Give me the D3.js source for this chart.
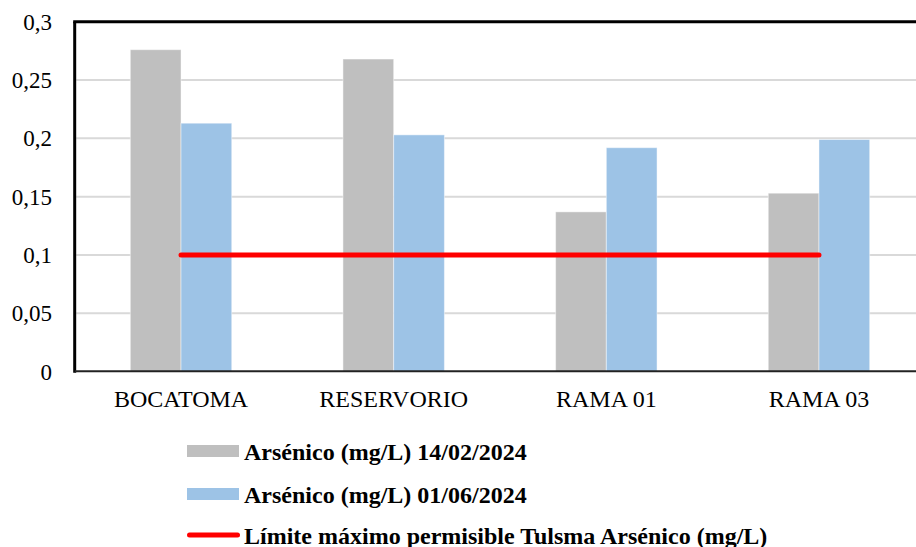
<!DOCTYPE html>
<html>
<head>
<meta charset="utf-8">
<script src="https://cdn.jsdelivr.net/npm/d3@7"></script>
<style>
  html, body { margin: 0; padding: 0; background: #fff; overflow: hidden; }
  svg { display: block; }
  svg text { font-family: "Times New Roman", "Liberation Serif", "DejaVu Serif", serif; fill: #000; }
</style>
</head>
<body>
<svg id="chart" width="916" height="547"></svg>
<script>
// Arsenic concentrations per sampling point
const categories = ["BOCATOMA", "RESERVORIO", "RAMA 01", "RAMA 03"];
const seriesNames = ["Arsénico (mg/L) 14/02/2024", "Arsénico (mg/L) 01/06/2024"];
const arsenicFeb = [0.276, 0.268, 0.137, 0.153];
const arsenicJun = [0.213, 0.203, 0.192, 0.199];
const limitName = "Límite máximo permisible Tulsma Arsénico (mg/L)";
const limitValues = [0.1, 0.1, 0.1, 0.1];
const yTicks = [0, 0.05, 0.1, 0.15, 0.2, 0.25, 0.3];
const yTickLabels = ["0", "0,05", "0,1", "0,15", "0,2", "0,25", "0,3"];

const colors = ["#bfbfbf", "#9dc3e6"];
const limitColor = "#ff0000";
const serif = '"Times New Roman", "Liberation Serif", "DejaVu Serif", serif';

const svg = d3.select("#chart");
const plot = { left: 74.7, right: 925.3, top: 21.7, bottom: 371.7 };

const x = d3.scaleBand().domain(categories).range([plot.left, plot.right]).padding(0);
const y = d3.scaleLinear().domain([0, 0.3]).range([plot.bottom, plot.top]);

const groupWidth = x.bandwidth() * 0.477;
const xSub = d3.scaleBand().domain(seriesNames).range([-groupWidth / 2, groupWidth / 2]).padding(0);

// Horizontal gridlines
svg.append("g")
  .selectAll("line")
  .data(yTicks.filter(t => t > 0 && t < 0.3))
  .join("line")
  .attr("x1", plot.left + 1.5).attr("x2", plot.right)
  .attr("y1", d => y(d)).attr("y2", d => y(d))
  .attr("stroke", "#d9d9d9").attr("stroke-width", 2);

// Bars
const rows = categories.map((c, i) => ({ cat: c, vals: [arsenicFeb[i], arsenicJun[i]] }));
svg.append("g")
  .selectAll("g")
  .data(rows)
  .join("g")
  .attr("transform", d => `translate(${x(d.cat) + x.bandwidth() / 2},0)`)
  .selectAll("rect")
  .data(d => d.vals.map((v, j) => ({ name: seriesNames[j], v, j })))
  .join("rect")
  .attr("x", d => xSub(d.name))
  .attr("width", xSub.bandwidth())
  .attr("y", d => y(d.v))
  .attr("height", d => y(0) - y(d.v))
  .attr("fill", d => colors[d.j])
  .attr("stroke", "rgba(255,255,255,0.45)")
  .attr("stroke-width", 1);

// Plot frame: top and left borders, baseline
svg.append("line")
  .attr("x1", plot.left - 1.5).attr("x2", plot.right)
  .attr("y1", plot.top).attr("y2", plot.top)
  .attr("stroke", "#000").attr("stroke-width", 3);
svg.append("line")
  .attr("x1", plot.left).attr("x2", plot.left)
  .attr("y1", plot.top).attr("y2", plot.bottom + 1)
  .attr("stroke", "#000").attr("stroke-width", 3);
svg.append("line")
  .attr("x1", plot.left).attr("x2", plot.right)
  .attr("y1", plot.bottom - 0.5).attr("y2", plot.bottom - 0.5)
  .attr("stroke", "#222").attr("stroke-width", 2);

// Permissible limit line
const limitLine = d3.line()
  .x((d, i) => x(categories[i]) + x.bandwidth() / 2)
  .y(d => y(d));
svg.append("path")
  .attr("d", limitLine(limitValues))
  .attr("fill", "none")
  .attr("stroke", limitColor)
  .attr("stroke-width", 5)
  .attr("stroke-linecap", "round");

// Y axis labels
const yAxis = d3.axisLeft(y)
  .tickValues(yTicks)
  .tickSize(0)
  .tickPadding(0)
  .tickFormat((d, i) => yTickLabels[i]);
const yg = svg.append("g")
  .attr("transform", `translate(52,0)`)
  .call(yAxis)
  .attr("font-family", serif)
  .attr("font-size", 23);
yg.select(".domain").remove();
yg.selectAll("text").attr("fill", "#000");

// X axis labels
const xAxis = d3.axisBottom(x).tickSize(0).tickPadding(0);
const xg = svg.append("g")
  .attr("transform", `translate(0,${plot.bottom})`)
  .call(xAxis)
  .attr("font-family", serif)
  .attr("font-size", 24);
xg.select(".domain").remove();
xg.selectAll("text")
  .attr("dy", null)
  .attr("y", 35.5)
  .attr("fill", "#000");

// Legend
const legend = svg.append("g").attr("transform", "translate(187,0)")
  .attr("font-family", serif);
const legendRows = [
  { label: seriesNames[0], type: "rect", color: colors[0], cy: 451 },
  { label: seriesNames[1], type: "rect", color: colors[1], cy: 494 },
  { label: limitName, type: "line", color: limitColor, cy: 535 }
];
legendRows.forEach(r => {
  if (r.type === "rect") {
    legend.append("rect")
      .attr("x", 0).attr("y", r.cy - 6)
      .attr("width", 52).attr("height", 12)
      .attr("fill", r.color);
  } else {
    legend.append("line")
      .attr("x1", 2.5).attr("x2", 50.5)
      .attr("y1", r.cy).attr("y2", r.cy)
      .attr("stroke", r.color).attr("stroke-width", 5)
      .attr("stroke-linecap", "round");
  }
  legend.append("text")
    .attr("x", 57)
    .attr("y", r.cy + 8.5)
    .attr("font-size", 24)
    .attr("font-weight", "bold")
    .text(r.label);
});
</script>
</body>
</html>
